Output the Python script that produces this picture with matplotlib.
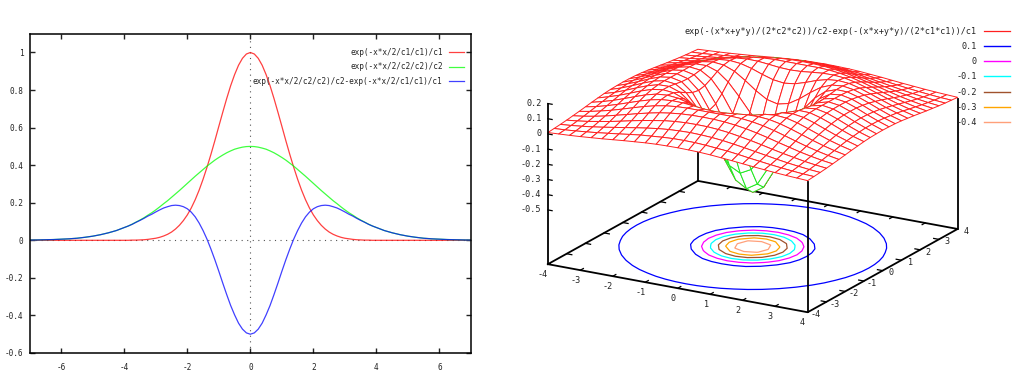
import matplotlib
matplotlib.use('Agg')
import matplotlib.pyplot as plt
from matplotlib.lines import Line2D
from mpl_toolkits.mplot3d import proj3d
import numpy as np

plt.rcParams['font.family'] = 'DejaVu Sans Mono'
plt.rcParams['font.size'] = 5.6
plt.rcParams['axes.unicode_minus'] = False

# left chart, values read for x >= 0, the curves are symmetric around 0
half_x = [0, .125, .25, .375, .5, .625, .75, .875, 1, 1.125, 1.25, 1.375, 1.5, 1.625, 1.75, 1.875,
          2, 2.125, 2.25, 2.375, 2.5, 2.625, 2.75, 2.875, 3, 3.125, 3.25, 3.375, 3.5, 3.625,
          3.75, 3.875, 4, 4.25, 4.5, 4.75, 5, 5.25, 5.5, 5.75, 6, 6.25, 6.5, 6.75, 7]
half_red = [1, .992, .969, .932, .882, .823, .755, .682, .607, .531, .458, .389, .325, .267, .216, .172,
            .135, .105, .080, .060, .044, .032, .023, .016, .011, .008, .005, .003, .002, .001,
            .001, 0, 0, 0, 0, 0, 0, 0, 0, 0, 0, 0, 0, 0, 0]
half_green = [.5, .499, .496, .491, .485, .476, .466, .454, .441, .427, .411, .395, .377, .359, .341, .322,
              .303, .284, .265, .247, .229, .211, .195, .178, .162, .147, .134, .120, .108, .097,
              .086, .076, .068, .052, .040, .030, .022, .016, .011, .008, .006, .004, .003, .002, .001]
half_blue = [-.5, -.493, -.473, -.441, -.397, -.347, -.289, -.228, -.165, -.104, -.047, .006, .052, .092, .125, .150,
             .168, .179, .185, .187, .185, .179, .172, .162, .151, .139, .129, .117, .106, .096,
             .085, .076, .068, .052, .040, .030, .022, .016, .011, .008, .006, .004, .003, .002, .001]
left_labels = ['exp(-x*x/2/c1/c1)/c1', 'exp(-x*x/2/c2/c2)/c2', 'exp(-x*x/2/c2/c2)/c2-exp(-x*x/2/c1/c1)/c1']
left_yticks = [-.6, -.4, -.2, 0, .2, .4, .6, .8, 1]
left_yticklabels = ['-0.6', '-0.4', '-0.2', '0', '0.2', '0.4', '0.6', '0.8', '1']
left_xticks = [-6, -4, -2, 0, 2, 4, 6]

# right chart, one quarter of the surface (x, y >= 0), 13 x 13 samples up to 4
surf_quarter = [
    [-.500, -.453, -.328, -.165, -.011, .104, .168, .187, .177, .151, .121, .092, .067],
    [-.453, -.409, -.291, -.139, .006, .113, .171, .187, .176, .150, .119, .091, .066],
    [-.328, -.291, -.194, -.068, .050, .135, .179, .187, .172, .145, .115, .087, .064],
    [-.165, -.139, -.068, .022, .104, .161, .186, .184, .164, .137, .108, .081, .060],
    [-.011, .006, .050, .104, .152, .180, .187, .176, .153, .125, .098, .075, .054],
    [.104, .113, .135, .161, .180, .187, .181, .163, .138, .112, .087, .066, .048],
    [.168, .171, .179, .186, .187, .181, .166, .145, .121, .097, .075, .056, .041],
    [.187, .187, .187, .184, .176, .163, .145, .124, .102, .081, .063, .047, .034],
    [.177, .176, .172, .164, .153, .138, .121, .102, .084, .066, .051, .038, .028],
    [.151, .150, .145, .137, .125, .112, .097, .081, .066, .053, .040, .030, .022],
    [.121, .119, .115, .108, .098, .087, .075, .063, .051, .040, .031, .023, .017],
    [.092, .091, .087, .081, .075, .066, .056, .047, .038, .030, .023, .017, .013],
    [.067, .066, .064, .060, .054, .048, .041, .034, .028, .022, .017, .013, .009],
]
surf_label = 'exp(-(x*x+y*y)/(2*c2*c2))/c2-exp(-(x*x+y*y)/(2*c1*c1))/c1'
contour_levels = [-.4, -.3, -.2, -.1, 0, .1]
contour_colors = ['#ffa07a', '#ffa500', '#a0522d', '#00ffff', '#ff00ff', '#0000ff']
contour_labels = ['-0.4', '-0.3', '-0.2', '-0.1', '0', '0.1']
xy_ticks = [-4, -3, -2, -1, 0, 1, 2, 3, 4]
z_ticks = [.2, .1, 0, -.1, -.2, -.3, -.4, -.5]
z_ticklabels = ['0.2', '0.1', '0', '-0.1', '-0.2', '-0.3', '-0.4', '-0.5']
z_base = -.857
FS_RIGHT = 6.15

W, H = 1022, 380
fig = plt.figure(figsize=(W / 100, H / 100), dpi=100)

# --- left chart ---
ax = fig.add_axes([29.7 / W, (H - 353) / H, (471 - 29.7) / W, (353 - 33.7) / H])
half_x = np.array(half_x)
xs = np.r_[-half_x[:0:-1], half_x]
for vals, c, lab in zip([half_red, half_green, half_blue], ['#ff0000', '#00ff00', '#0000ff'], left_labels):
    vals = np.array(vals)
    ax.plot(xs, np.r_[vals[:0:-1], vals], color=c, lw=0.9, alpha=0.75, label=lab)
ax.axhline(0, color='#555555', lw=0.8, ls=(0, (1, 4)), zorder=0)
ax.axvline(0, color='#555555', lw=0.8, ls=(0, (1, 4)), zorder=0)
ax.set_xlim(-7, 7)
ax.set_ylim(-.6, 1.1)
ax.set_xticks(left_xticks)
ax.set_yticks(left_yticks)
ax.set_yticklabels(left_yticklabels)
ax.tick_params(direction='in', top=True, right=True, length=3.5, width=1.0, labelsize=5.6, colors='#222222')
ax.tick_params(axis='x', pad=7.5)
ax.tick_params(axis='y', pad=4.5)
for s in ax.spines.values():
    s.set_linewidth(1.1)
ax.legend(loc='upper right', frameon=False, markerfirst=False, handlelength=1.95, handletextpad=0.8,
          labelspacing=0.69, bbox_to_anchor=(0.984, 0.955), borderaxespad=0, borderpad=0, labelcolor='#222222')

# --- right chart ---
S = 500
ax3 = fig.add_axes([496 / W, -43 / H, S / W, S / H], projection='3d', computed_zorder=False, proj_type='ortho')
elev, azim = 18.7, -60
ax3.view_init(elev=elev, azim=azim)
ax3.set_box_aspect((1, 1, .5654), zoom=.887)
ax3.set_xlim(-4, 4, view_margin=0)
ax3.set_ylim(-4, 4, view_margin=0)
ax3.set_zlim(z_base, .2, view_margin=0)
ax3.set_xticks([])
ax3.set_yticks([])
ax3.set_zticks([])
ax3.set_axis_off()
ax3.patch.set_alpha(0)

q = np.array(surf_quarter)
top = np.hstack([q[:, :0:-1], q])
Z = np.vstack([top[:0:-1], top])
grid = np.linspace(-4, 4, 25)
X, Y = np.meshgrid(grid, grid)

ax3.contour(X, Y, Z, levels=contour_levels, colors=contour_colors, zdir='z', offset=z_base,
            linewidths=0.9, zorder=2)


def line3(xv, yv, zv, zorder, lw=1.3):
    ax3.plot(xv, yv, zv, color='black', lw=lw, zorder=zorder, clip_on=False)


def label3(x, y, z, s, ha):
    # projected by hand so the text has a plain 2D position
    x2, y2, _ = proj3d.proj_transform(x, y, z, ax3.get_proj())
    ax3.text2D(x2, y2, s, transform=ax3.transData, ha=ha, va='center', color='#222222', zorder=9, fontsize=FS_RIGHT)


# base frame and the verticals behind the surface
line3([-4, 4, 4, -4, -4], [-4, -4, 4, 4, -4], [z_base] * 5, 1)
line3([-4, -4], [4, 4], [z_base, 0], 1)
for t in xy_ticks[1:-1]:
    line3([t, t], [-4, -3.84], [z_base] * 2, 1, 0.9)
    line3([t, t], [4, 3.84], [z_base] * 2, 1, 0.9)
    line3([-4, -3.84], [t, t], [z_base] * 2, 1, 0.9)
    line3([4, 3.84], [t, t], [z_base] * 2, 1, 0.9)

# red on the top of the mesh, green where the underside faces the viewer
sx, sz = 1.11 / 8, .6276 / (.2 - z_base)
h = grid[1] - grid[0]
dzdx = ((Z[:, 1:] - Z[:, :-1]) / h)
dzdx = (dzdx[1:, :] + dzdx[:-1, :]) / 2
dzdy = ((Z[1:, :] - Z[:-1, :]) / h)
dzdy = (dzdy[:, 1:] + dzdy[:, :-1]) / 2
e, a = np.radians(elev), np.radians(azim)
facing = (-dzdx * sz / sx * np.cos(e) * np.cos(a) - dzdy * sz / sx * np.cos(e) * np.sin(a) + np.sin(e)) > 0
edge_colors = [('#ff2020' if f else '#20e820') for f in facing.ravel()]
surf = ax3.plot_surface(X, Y, Z, rstride=1, cstride=1, color='white', shade=False,
                        edgecolor='#ff2020', linewidth=0.7, antialiased=True, zorder=5)
surf.set_edgecolor(edge_colors)

# verticals in front of the surface
line3([-4, -4], [-4, -4], [z_base, .2], 8)
line3([4, 4], [-4, -4], [z_base, 0], 8)
line3([4, 4], [4, 4], [z_base, 0], 8)
for z in z_ticks:
    line3([-4, -3.87], [-4, -4], [z, z], 8, 0.9)

for t in xy_ticks:
    label3(t, -4.27, z_base - .048, str(t), 'center')
    label3(4.25, t, z_base - .005, str(t), 'center')
for z, lab in zip(z_ticks, z_ticklabels):
    label3(-4.2, -4, z - .008, lab, 'right')

handles = [Line2D([], [], color='#ff2020', lw=0.9)]
labels = [surf_label]
for c, lab in zip(contour_colors[::-1], contour_labels[::-1]):
    handles.append(Line2D([], [], color=c, lw=1.0))
    labels.append(lab)
fig.legend(handles, labels, loc='upper right', frameon=False, markerfirst=False, handlelength=3.0,
           handletextpad=0.9, labelspacing=0.74, bbox_to_anchor=(1010 / W, (H - 26.5) / H),
           borderaxespad=0, borderpad=0, labelcolor='#222222', fontsize=FS_RIGHT)

fig.savefig('out.png', dpi=100)
